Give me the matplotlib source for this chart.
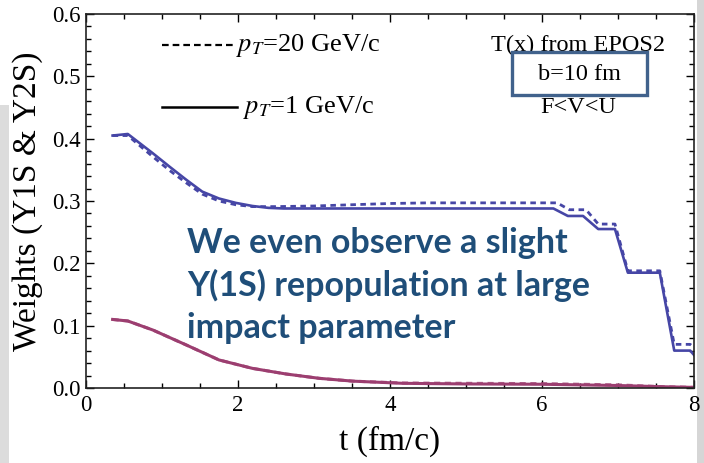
import matplotlib
matplotlib.use('Agg')
import matplotlib.pyplot as plt
from matplotlib.patches import Rectangle
from matplotlib.lines import Line2D
from matplotlib.ticker import MultipleLocator, FormatStrFormatter

# Y(1S) weights, pT = 1 GeV/c (solid) and pT = 20 GeV/c (dashed)
t_1s_solid = [0.35, 0.55, 0.88, 1.1, 1.32, 1.53, 1.75, 1.97, 2.19, 2.4, 2.6, 3.0, 4.0, 5.0,
              6.15, 6.34, 6.54, 6.74, 6.96, 7.13, 7.55, 7.74, 7.95, 8.0]
w_1s_solid = [0.405, 0.4075, 0.3765, 0.355, 0.334, 0.315, 0.304, 0.297, 0.292, 0.289, 0.288,
              0.288, 0.288, 0.288, 0.288, 0.276, 0.276, 0.255, 0.255, 0.185, 0.185, 0.06,
              0.06, 0.053]
t_1s_dash = [0.35, 0.55, 0.88, 1.1, 1.32, 1.53, 1.75, 1.97, 2.19, 2.5, 3.0, 3.5, 4.0, 4.5,
             5.0, 6.2, 6.36, 6.58, 6.74, 6.96, 7.13, 7.55, 7.74, 7.95, 8.0]
w_1s_dash = [0.405, 0.405, 0.371, 0.349, 0.329, 0.311, 0.300, 0.294, 0.291, 0.291, 0.292,
             0.294, 0.296, 0.297, 0.297, 0.297, 0.286, 0.286, 0.263, 0.263, 0.188, 0.188,
             0.07, 0.07, 0.065]

# Y(2S) weights
t_2s = [0.35, 0.55, 0.88, 1.32, 1.75, 2.19, 2.63, 3.07, 3.51, 4.17, 5.0, 6.0, 7.0, 7.6, 8.0]
w_2s_solid = [0.110, 0.1075, 0.093, 0.069, 0.045, 0.0315, 0.0225, 0.0155, 0.011, 0.0075,
              0.0065, 0.006, 0.004, 0.002, 0.001]
w_2s_dash = [0.110, 0.1075, 0.093, 0.069, 0.045, 0.0315, 0.0225, 0.0155, 0.011, 0.008,
             0.0075, 0.007, 0.005, 0.002, 0.001]

BLUE = '#4646a6'
MAGENTA = '#9c3e70'
TEXT_BLUE = '#1f4e79'

plt.rcParams['font.family'] = ['Liberation Serif', 'DejaVu Serif']
plt.rcParams['mathtext.fontset'] = 'stix'

fig = plt.figure(figsize=(7.04, 4.63), dpi=100)
fig.patch.set_facecolor('white')

# slide background strips at the edges
fig.add_artist(Rectangle((0, 0), 9 / 704, 1 - 105 / 463, transform=fig.transFigure,
                         facecolor='#dcdcdc', edgecolor='none', zorder=0))
fig.add_artist(Rectangle((697 / 704, 0), 7 / 704, 1, transform=fig.transFigure,
                         facecolor='#d6d6d6', edgecolor='none', zorder=0))

ax = fig.add_axes([86 / 704, 1 - 388 / 463, 608 / 704, 374 / 463])
ax.set_xlim(0, 8)
ax.set_ylim(0, 0.6)

ax.plot(t_2s, w_2s_dash, color=MAGENTA, lw=2.2, ls=(0, (2, 1.5)), alpha=0.8)
ax.plot(t_2s, w_2s_solid, color=MAGENTA, lw=2.2)
ax.plot(t_1s_dash, w_1s_dash, color=BLUE, lw=2.0, ls=(0, (2, 1.6)))
ax.plot(t_1s_solid, w_1s_solid, color=BLUE, lw=1.9)

ax.xaxis.set_major_locator(MultipleLocator(2))
ax.xaxis.set_minor_locator(MultipleLocator(0.5))
ax.yaxis.set_major_locator(MultipleLocator(0.1))
ax.yaxis.set_minor_locator(MultipleLocator(0.02))
ax.yaxis.set_major_formatter(FormatStrFormatter('%.1f'))
ax.tick_params(which='both', direction='in', top=True, right=True, width=1.0, labelsize=16.5)
ax.tick_params(which='major', length=6)
ax.tick_params(which='minor', length=3.5)
ax.tick_params(axis='x', pad=5)
ax.tick_params(axis='y', pad=4)
for s in ax.spines.values():
    s.set_linewidth(1.2)
    s.set_color('#222222')

ax.set_xlabel('t (fm/c)', fontsize=24, labelpad=7)
ax.set_ylabel('Weights (Y1S & Y2S)', fontsize=24, labelpad=6)

# legend drawn by hand
ax.add_line(Line2D([0.125, 0.245], [0.917, 0.917], transform=ax.transAxes,
                   color='black', lw=1.6, ls=(0, (3, 1.8))))
ax.text(0.247, 0.917, r'$p_T$=20 GeV/c', transform=ax.transAxes, fontsize=19,
        ha='left', va='center')
ax.add_line(Line2D([0.125, 0.248], [0.751, 0.751], transform=ax.transAxes,
                   color='black', lw=1.8))
ax.text(0.258, 0.751, r'$p_T$=1 GeV/c', transform=ax.transAxes, fontsize=19,
        ha='left', va='center')

ax.text(0.809, 0.915, 'T(x) from EPOS2', transform=ax.transAxes, fontsize=17.5,
        ha='center', va='center', zorder=3)
ax.add_patch(Rectangle((0.701, 0.783), 0.222, 0.115, transform=ax.transAxes,
                       facecolor='white', edgecolor='#41628c', lw=2.4, zorder=4))
ax.text(0.812, 0.838, 'b=10 fm', transform=ax.transAxes, fontsize=17.5,
        ha='center', va='center', zorder=5)
ax.text(0.809, 0.751, 'F<V<U', transform=ax.transAxes, fontsize=17.5,
        ha='center', va='center', zorder=3)

fig.text(187 / 704, 1 - 227 / 463,
         'We even observe a slight\nY(1S) repopulation at large\nimpact parameter',
         fontsize=24.5, fontweight='bold', family=['Lato', 'DejaVu Sans'],
         color=TEXT_BLUE, ha='left', va='top', linespacing=1.38, zorder=10)

fig.savefig('out.png', dpi=100)
